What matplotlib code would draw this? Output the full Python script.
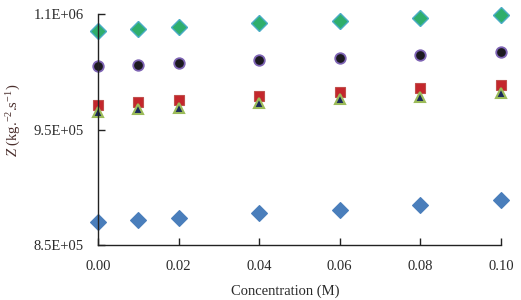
import numpy as np
import matplotlib
matplotlib.use("Agg")
import matplotlib.pyplot as plt

plt.rcParams['font.family'] = ['Liberation Serif', 'DejaVu Serif']
plt.rcParams['mathtext.fontset'] = 'custom'
plt.rcParams['mathtext.rm'] = 'Liberation Serif'
plt.rcParams['mathtext.it'] = 'Liberation Serif:italic'

# concentration (M)
conc = [0.00, 0.01, 0.02, 0.04, 0.06, 0.08, 0.10]

# acoustic impedance series
z_blue = [869700, 871900, 873600, 877400, 880300, 884600, 888700]
z_green = [1035300, 1036700, 1039000, 1042200, 1043900, 1046300, 1048900]
z_circle = [1004700, 1005800, 1007300, 1010200, 1012200, 1014800, 1016800]
z_square = [971500, 973800, 975800, 979000, 982500, 985900, 988500]
z_triangle = [964900, 967500, 968900, 972900, 976100, 978400, 981300]

xticks = [0.00, 0.02, 0.04, 0.06, 0.08, 0.10]
yticks = [850000, 950000, 1050000]
ytick_labels = ["8.5E+05", "9.5E+05", "1.1E+06"]

fig = plt.figure(figsize=(5.21, 3.0), dpi=100)
ax = fig.add_axes([0.188, 0.1833, 0.7735, 0.77])

ax.plot(conc, z_blue, linestyle='none', marker='D', ms=7.8,
        mfc='#4A7EBB', mec='#4A7EBB', mew=0.8, clip_on=False)
ax.plot(conc, z_green, linestyle='none', marker='D', ms=7.8,
        mfc='#2FAE6C', mec='#4BACC6', mew=1.0, clip_on=False)
ax.plot(conc, z_circle, linestyle='none', marker='o', ms=7.6,
        mfc='#1C1A20', mec='#7E64B4', mew=1.3, clip_on=False)
ax.plot(conc, z_square, linestyle='none', marker='s', ms=6.6,
        mfc='#C4262C', mec='#C0504D', mew=0.8, clip_on=False)
ax.plot(conc, z_triangle, linestyle='none', marker='^', ms=7.8,
        mfc='#1B2A5C', mec='#9BBB59', mew=1.5, clip_on=False)

ax.set_xlim(0, 0.10)
ax.set_ylim(850000, 1050000)
ax.set_xticks(xticks)
ax.set_xticklabels([f"{v:.2f}" for v in xticks])
ax.set_yticks(yticks)
ax.set_yticklabels(ytick_labels)

for side in ['top', 'right']:
    ax.spines[side].set_visible(False)
for side in ['left', 'bottom']:
    ax.spines[side].set_color('#222222')
    ax.spines[side].set_linewidth(1.0)

ax.tick_params(axis='both', direction='in', length=5, width=1.0,
               color='#222222', labelsize=10.5, labelcolor='#2a2a2a', pad=10)
ax.tick_params(axis='x', pad=11)

ax.set_xlabel("Concentration (M)", fontsize=10.5, color='#2a2a2a')
ax.xaxis.set_label_coords(0.465, -0.17)
ax.set_ylabel(r"$Z$ (kg.$^{-2}$.s$^{-1}$)", fontsize=10.5, color='#4a2e2c')
ax.yaxis.set_label_coords(-0.185, 0.54)

fig.savefig("out.png", dpi=100)
